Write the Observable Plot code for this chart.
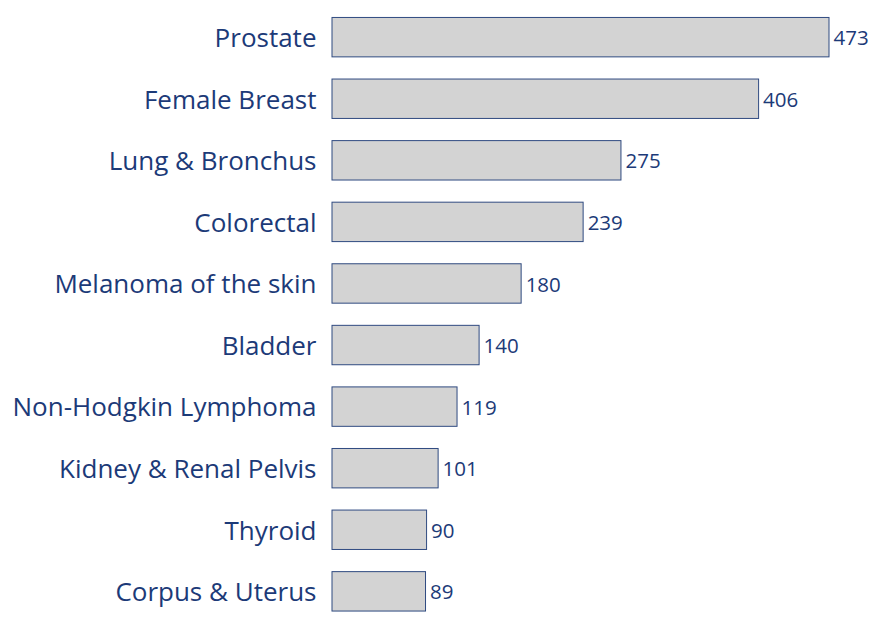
<!DOCTYPE html>
<html><head><meta charset="utf-8">
<script src="https://cdn.jsdelivr.net/npm/d3@7"></script>
<script src="https://cdn.jsdelivr.net/npm/@observablehq/plot@0.6"></script>
<style>body{margin:0;background:#fff;} svg{display:block;}</style>
</head><body><div id="chart"></div>
<script>
const categories = ["Prostate","Female Breast","Lung & Bronchus","Colorectal","Melanoma of the skin","Bladder","Non-Hodgkin Lymphoma","Kidney & Renal Pelvis","Thyroid","Corpus & Uterus"];
const values = [473,406,275,239,180,140,119,101,90,89];
const data = categories.map((c,i)=>({cat:c, v:values[i]}));
const textColor = "#1c3a78";
const chart = Plot.plot({
  width: 869, height: 618,
  marginLeft: 332, marginRight: 40, marginTop: 11.3, marginBottom: 0.8,
  style: {fontFamily: "'Open Sans', sans-serif", background: "#fff"},
  x: {domain: [0, 473], range: [332, 829], axis: null},
  y: {domain: categories, paddingInner: 0.36, paddingOuter: 0.1, round: false, label: null},
  marks: [
    Plot.barX(data, {x: "v", y: "cat", fill: "#d3d3d3", stroke: "#2f4a80", strokeWidth: 1}),
    Plot.text(data, {x: "v", y: "cat", text: d => String(d.v), textAnchor: "start", dx: 4, dy: 1, fill: textColor, fontSize: 20.5}),
    Plot.ruleX([0], {y1: null, stroke: "#8fa0c0", strokeWidth: 1.5}),
    Plot.axisY({tickSize: 0, tickPadding: 16, dy: 1, fontSize: 26, color: textColor, label: null})
  ]
});
document.getElementById("chart").append(chart);
</script></body></html>
